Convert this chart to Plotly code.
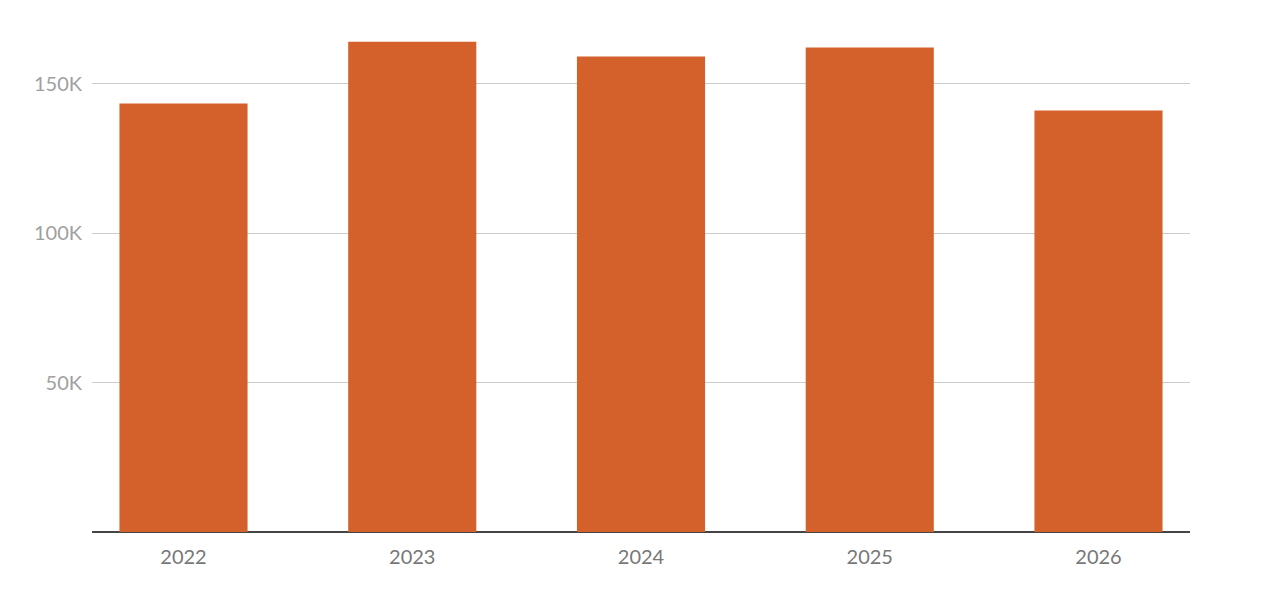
import plotly.graph_objects as go

years = ["2022", "2023", "2024", "2025", "2026"]
values = [143300, 164000, 159000, 162000, 141000]
y_ticks = [50000, 100000, 150000]
y_tick_labels = ["50K", "100K", "150K"]

fig = go.Figure(
    go.Bar(
        x=years,
        y=values,
        marker=dict(color="#D4612B", line=dict(width=0)),
        width=0.56,
        hoverinfo="x+y",
    )
)

fig.update_layout(
    width=1280,
    height=595,
    margin=dict(l=92, r=90, t=20, b=63),
    paper_bgcolor="white",
    plot_bgcolor="white",
    showlegend=False,
    font=dict(family="Lato, Open Sans, sans-serif"),
    bargap=0.44,
)

fig.update_xaxes(
    type="category",
    range=[-0.4, 4.4],
    showgrid=False,
    showline=False,
    ticks="outside",
    ticklen=7,
    tickcolor="rgba(0,0,0,0)",
    tickfont=dict(size=20, color="#777777"),
)

fig.update_yaxes(
    range=[0, 171237],
    tickvals=y_ticks,
    ticktext=y_tick_labels,
    showgrid=True,
    gridcolor="#CCCCCC",
    gridwidth=1,
    zeroline=True,
    zerolinecolor="#444444",
    zerolinewidth=1.5,
    showline=False,
    ticks="outside",
    ticklen=5,
    tickcolor="rgba(0,0,0,0)",
    tickfont=dict(size=20, color="#A0A0A0"),
)

fig.write_html("out.html")
